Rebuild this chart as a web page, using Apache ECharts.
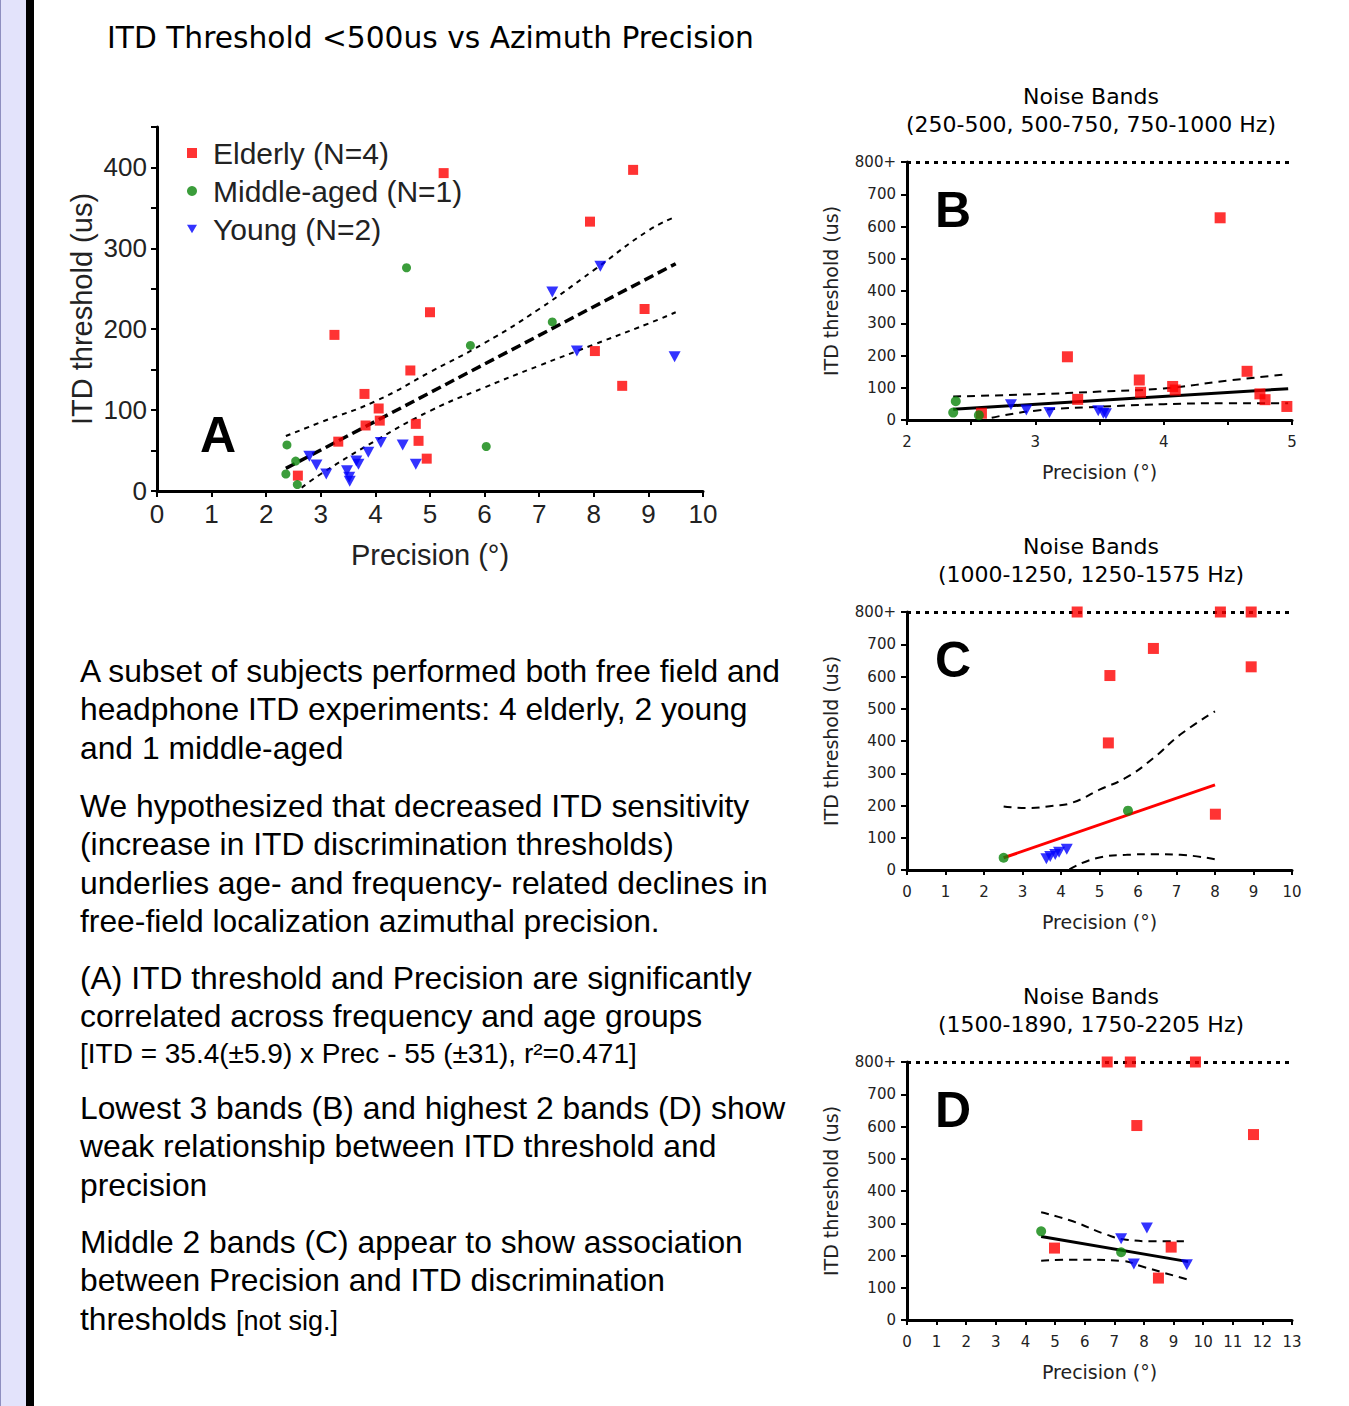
<!DOCTYPE html>
<html><head><meta charset="utf-8">
<script src="https://cdn.jsdelivr.net/npm/echarts@6/dist/echarts.min.js"></script>
<style>
html,body{margin:0;padding:0;background:#fff;width:1349px;height:1406px;overflow:hidden}
#strip1{position:absolute;left:0;top:0;width:26px;height:1406px;background:#e3e3fb;border-left:1px solid #8f8fc0;box-sizing:border-box}
#strip2{position:absolute;left:26px;top:0;width:8px;height:1406px;background:#000}
#main{position:absolute;left:0;top:0;width:1349px;height:1406px}
</style></head><body>
<div id="strip1"></div><div id="strip2"></div><div id="main"></div>
<script>
// ---------- Panel A data ----------
const aElderly = [[5.25,393],[8.72,397],[7.93,333],[5.0,221],[3.25,193],[8.93,225],[4.64,149],[8.02,173],[8.52,130],[3.80,120],[4.06,102],[4.08,87],[3.82,81],[4.74,83],[3.32,61],[4.79,62],[4.94,40],[2.58,19]];
const aMiddle = [[4.57,276],[5.74,180],[7.24,209],[6.03,55],[2.38,57],[2.54,37],[2.36,21],[2.57,8]];
const aYoung = [[8.12,278],[7.24,246],[7.69,173],[9.48,166],[4.50,57],[4.10,60],[3.87,48],[3.69,33],[3.65,37],[3.48,25],[3.53,12],[3.10,21],[2.92,32],[2.79,43],[4.74,33],[3.52,17]];
const aFit = [[2.36,28],[9.5,281]];
const aUpper = [[2.36,68],[3,85],[4,111],[5,147],[6,183],[7,225],[8,273],[9,322],[9.5,339]];
const aLower = [[2.65,4],[3,21],[4,62],[5,99],[6,128],[7,155],[8,181],[9,207],[9.5,221]];

// ---------- Panel B data ----------
const bElderly = [[4.44,627],[3.25,196],[3.81,124],[3.82,86],[4.07,104],[4.09,93],[4.65,151],[4.75,81],[4.79,63],[4.96,42],[3.33,64],[2.58,21]];
const bMiddle = [[2.38,58],[2.36,23],[2.56,15]];
const bYoung = [[2.81,47],[2.93,31],[3.11,23],[3.49,29],[3.53,21],[3.55,19]];
const bFit = [[2.36,33],[4.97,97]];
const bUpper = [[2.36,73],[3,80],[3.5,88],[4,98],[4.5,122],[4.97,142]];
const bLower = [[2.66,7],[3,29],[3.5,41],[4,49],[4.5,52],[4.97,52]];

// ---------- Panel C data ----------
const cElderly = [[4.42,800],[8.14,800],[8.94,800],[6.40,687],[5.27,603],[8.94,630],[5.23,394],[8.01,173]];
const cMiddle = [[2.51,38],[5.74,184]];
const cYoung = [[3.62,35],[3.72,42],[3.85,48],[3.95,55],[4.15,64]];
const cFit = [[2.51,38],[8.0,264]];
const cUpper = [[2.51,197],[3.1,192],[3.8,199],[4.3,209],[5,249],[5.7,287],[6.4,347],[7.1,420],[8.0,492]];
const cLower = [[4.22,2],[5,39],[5.7,47],[6.4,49],[7.1,47],[8.0,33]];

// ---------- Panel D data ----------
const dElderly = [[6.76,800],[7.54,800],[9.74,800],[7.76,603],[11.70,575],[4.98,223],[8.92,226],[8.49,130]];
const dMiddle = [[4.53,275],[7.23,210]];
const dYoung = [[7.23,252],[8.10,285],[7.66,174],[9.45,171]];
const dFit = [[4.53,259],[9.49,181]];
const dUpper = [[4.53,334],[5.6,306],[6.7,266],[7.4,249],[8.4,244],[9.35,244]];
const dLower = [[4.53,184],[5.6,187],[7.3,183],[7.86,168],[9.45,126]];

// ---------- labels ----------
const groupNames = ['Elderly (N=4)','Middle-aged (N=1)','Young (N=2)'];
const yTickLabelsBCD = ['0','100','200','300','400','500','600','700','800+'];
const ceilingValue = 800;
const panelTitles = [
  ['Noise Bands','(250-500, 500-750, 750-1000 Hz)'],
  ['Noise Bands','(1000-1250, 1250-1575 Hz)'],
  ['Noise Bands','(1500-1890, 1750-2205 Hz)']
];
const mainTitle = 'ITD Threshold <500us vs Azimuth Precision';
const paragraphs = [
  ['A subset of subjects performed both free field and','headphone ITD experiments: 4 elderly, 2 young','and 1 middle-aged'],
  ['We hypothesized that decreased ITD sensitivity','(increase in ITD discrimination thresholds)','underlies age- and frequency- related declines in','free-field localization azimuthal precision.'],
  ['(A) ITD threshold and Precision are significantly','correlated across frequency and age groups'],
  ['Lowest 3 bands (B) and highest 2 bands (D) show','weak relationship between ITD threshold and','precision'],
  ['Middle 2 bands (C) appear to show association','between Precision and ITD discrimination','thresholds']
];
const equationLine = '[ITD = 35.4(\u00b15.9) x Prec - 55 (\u00b131), r\u00b2=0.471]';
const notSig = '[not sig.]';

// ---------- styling ----------
const RED = '#ff0000', GREEN = '#0a850a', BLUE = '#0000ff';
const TRI = 'path://M0,0L12,0L6,10Z';
const SANS = '"Liberation Sans", Arial, sans-serif';
const DJ = '"DejaVu Sans", Verdana, sans-serif';

function scat(name, data, gi, symbol, size, color) {
  return {type:'scatter', name, data, xAxisIndex:gi, yAxisIndex:gi, symbol, symbolSize:size,
    itemStyle:{color}, z:5, silent:true};
}
function line(data, gi, color, width, type, smooth, extra) {
  return Object.assign({type:'line', data, xAxisIndex:gi, yAxisIndex:gi, showSymbol:false, symbol:'none',
    smooth: smooth||false, lineStyle:{color, width, type}, z:3, silent:true}, extra||{});
}
const ceilingMark = {markLine:{silent:true, symbol:'none', label:{show:false},
  lineStyle:{color:'#000', width:3, type:[4,5]}, data:[{yAxis:ceilingValue}]}};

const grids = [
  {left:157, top:127, width:546, height:364},
  {left:907, top:162, width:385, height:258},
  {left:907, top:612, width:385, height:258},
  {left:907, top:1062, width:385, height:258}
];

const axLine = {show:true, onZero:false, lineStyle:{color:'#000', width:3}};
const xAxes = [
  {gridIndex:0, type:'value', min:0, max:10, interval:1, axisLine:axLine,
   axisTick:{show:true, length:6, lineStyle:{color:'#000', width:2}},
   axisLabel:{fontFamily:SANS, fontSize:26, color:'#222', margin:10},
   splitLine:{show:false}, name:'Precision (\u00b0)', nameLocation:'middle', nameGap:49,
   nameTextStyle:{fontFamily:SANS, fontSize:29, color:'#222'}},
  {gridIndex:1, type:'value', min:2, max:5, interval:0.5, axisLine:axLine,
   axisTick:{show:true, length:5, lineStyle:{color:'#000', width:2}},
   axisLabel:{fontFamily:DJ, fontSize:15, color:'#222', margin:14, formatter:v => Number.isInteger(v) ? String(v) : ''},
   splitLine:{show:false}, name:'Precision (\u00b0)', nameLocation:'middle', nameGap:42,
   nameTextStyle:{fontFamily:DJ, fontSize:19, color:'#222'}},
  {gridIndex:2, type:'value', min:0, max:10, interval:1, axisLine:axLine,
   axisTick:{show:true, length:5, lineStyle:{color:'#000', width:2}},
   axisLabel:{fontFamily:DJ, fontSize:15, color:'#222', margin:14},
   splitLine:{show:false}, name:'Precision (\u00b0)', nameLocation:'middle', nameGap:42,
   nameTextStyle:{fontFamily:DJ, fontSize:19, color:'#222'}},
  {gridIndex:3, type:'value', min:0, max:13, interval:1, axisLine:axLine,
   axisTick:{show:true, length:5, lineStyle:{color:'#000', width:2}},
   axisLabel:{fontFamily:DJ, fontSize:15, color:'#222', margin:14},
   splitLine:{show:false}, name:'Precision (\u00b0)', nameLocation:'middle', nameGap:42,
   nameTextStyle:{fontFamily:DJ, fontSize:19, color:'#222'}}
];
function yBCD(gi) {
  return {gridIndex:gi, type:'value', min:0, max:800, interval:100, axisLine:axLine,
    axisTick:{show:true, length:6, lineStyle:{color:'#000', width:2}},
    axisLabel:{fontFamily:DJ, fontSize:15, color:'#222', margin:11, formatter:v => yTickLabelsBCD[Math.round(v/100)]},
    splitLine:{show:false}, name:'ITD threshold (us)', nameLocation:'middle', nameGap:67,
    nameTextStyle:{fontFamily:DJ, fontSize:19, color:'#222'}};
}
const yAxes = [
  {gridIndex:0, type:'value', min:0, max:450, interval:50, axisLine:axLine,
   axisTick:{show:true, length:6, lineStyle:{color:'#000', width:2}},
   axisLabel:{fontFamily:SANS, fontSize:26, color:'#222', margin:10, formatter:v => (v % 100 === 0 ? String(v) : '')},
   splitLine:{show:false}, name:'ITD threshold (us)', nameLocation:'middle', nameGap:61,
   nameTextStyle:{fontFamily:SANS, fontSize:29, color:'#222'}},
  yBCD(1), yBCD(2), yBCD(3)
];

const series = [
  // A
  line(aUpper, 0, '#000', 2, [5,5], true),
  line(aLower, 0, '#000', 2, [5,5], true),
  line(aFit, 0, '#000', 3.5, [10,5], false),
  scat(groupNames[0], aElderly, 0, 'rect', 10, RED),
  scat(groupNames[1], aMiddle, 0, 'circle', 9, GREEN),
  scat(groupNames[2], aYoung, 0, TRI, [12,11], BLUE),
  // B
  line(bUpper, 1, '#000', 2, [8,6], true),
  line(bLower, 1, '#000', 2, [8,6], true),
  line(bFit, 1, '#000', 3, 'solid', false, ceilingMark),
  scat(groupNames[0], bElderly, 1, 'rect', 11, RED),
  scat(groupNames[1], bMiddle, 1, 'circle', 10, GREEN),
  scat(groupNames[2], bYoung, 1, TRI, [12,11], BLUE),
  // C
  line(cUpper, 2, '#000', 2, [8,6], true),
  line(cLower, 2, '#000', 2, [8,6], true),
  line(cFit, 2, RED, 3, 'solid', false, ceilingMark),
  scat(groupNames[0], cElderly, 2, 'rect', 11, RED),
  scat(groupNames[1], cMiddle, 2, 'circle', 10, GREEN),
  scat(groupNames[2], cYoung, 2, TRI, [12,11], BLUE),
  // D
  line(dUpper, 3, '#000', 2, [8,6], true),
  line(dLower, 3, '#000', 2, [8,6], true),
  line(dFit, 3, '#000', 3, 'solid', false, ceilingMark),
  scat(groupNames[0], dElderly, 3, 'rect', 11, RED),
  scat(groupNames[1], dMiddle, 3, 'circle', 10, GREEN),
  scat(groupNames[2], dYoung, 3, TRI, [12,11], BLUE)
];

// ---------- text graphics ----------
const graphic = [];
function txt(text, x, y, font, align, extra) {
  graphic.push(Object.assign({type:'text', x, y, silent:true,
    style:{text, font, fill:'#000', align:align||'left', verticalAlign:'middle'}}, extra||{}));
}
txt(mainTitle, 107, 37, '29.7px ' + DJ);
txt('A', 218, 435, 'bold 50px ' + SANS, 'center');
txt('B', 953, 210, 'bold 50px ' + SANS, 'center');
txt('C', 953, 660, 'bold 50px ' + SANS, 'center');
txt('D', 953, 1110, 'bold 50px ' + SANS, 'center');
const titleY = [96, 546, 996];
panelTitles.forEach((t, i) => {
  txt(t[0], 1091, titleY[i], '22px ' + DJ, 'center');
  txt(t[1], 1091, titleY[i] + 28, '22px ' + DJ, 'center');
});
const paraY = [671, 806, 978, 1108, 1242];
paragraphs.forEach((p, i) => {
  p.forEach((l, j) => txt(l, 80, paraY[i] + j * 38.3, '31.8px ' + SANS));
});
txt(equationLine, 80, 1053, '28px ' + SANS);
txt(notSig, 236, 1321, '27px ' + SANS);

const chart = echarts.init(document.getElementById('main'), null, {renderer:'svg', width:1349, height:1406});
chart.setOption({
  animation:false,
  backgroundColor:'transparent',
  grid:grids, xAxis:xAxes, yAxis:yAxes, series,
  legend:{show:true, data:groupNames, orient:'vertical', left:187, top:138, padding:0, itemWidth:10, itemHeight:10, itemGap:8,
    selectedMode:false,
    textStyle:{fontFamily:SANS, fontSize:30, color:'#222', lineHeight:30, padding:[0,0,0,11]}},
  graphic
});
</script>
</body></html>
